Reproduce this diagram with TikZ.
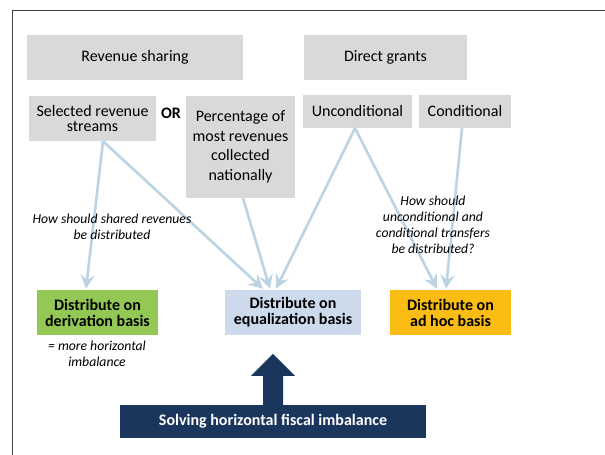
\documentclass[tikz,border=0pt]{standalone}
\usepackage{fontspec}
\setmainfont{Carlito}
\usetikzlibrary{arrows.meta,calc}
\definecolor{greybox}{HTML}{D9D9D9}
\definecolor{greenbox}{HTML}{92C853}
\definecolor{bluebox}{HTML}{CCDAEC}
\definecolor{yellowbox}{HTML}{FBBD13}
\definecolor{navy}{HTML}{1A365D}
\definecolor{arrowblue}{HTML}{BCD3E2}
\begin{document}
\begin{tikzpicture}[x=1pt,y=-1pt,
  gbox/.style={fill=greybox,inner sep=0pt,align=center,font=\fontsize{16}{15.5}\selectfont},
  rbox/.style={inner sep=0pt,align=center,font=\fontsize{16}{16}\selectfont\bfseries},
  note/.style={inner sep=0pt,align=center,font=\fontsize{13.7}{16}\selectfont\itshape},
  flow/.style={draw=arrowblue,line width=2.6pt,-{Stealth[length=14pt,width=14pt,inset=5pt]}}]
\useasboundingbox (0,0) rectangle (605,455);
\draw[line width=1pt,black!75] (12,455) -- (12,10) -- (605,10);
% top boxes
\node[gbox,minimum width=216pt,minimum height=45pt] (revshare) at (135,57.5) {Revenue sharing};
\node[gbox,minimum width=163pt,minimum height=45pt] (direct) at (385.5,57.5) {Direct grants};
\node[gbox,minimum width=127pt,minimum height=45pt] (selected) at (92.5,118.5) {Selected revenue\\streams};
\node[inner sep=0pt,font=\fontsize{16}{16}\selectfont\bfseries] (or) at (171,113) {OR};
\node[gbox,minimum width=109pt,minimum height=102pt,font=\fontsize{16}{19.5}\selectfont] (percent) at (240.5,147) {Percentage of\\most revenues\\collected\\nationally};
\node[gbox,minimum width=109pt,minimum height=33pt] (uncond) at (357.5,111.5) {Unconditional};
\node[gbox,minimum width=92pt,minimum height=33pt] (cond) at (465,111.5) {Conditional};
% result boxes
\node[rbox,fill=greenbox,minimum width=121pt,minimum height=45pt] (deriv) at (97.5,312.5) {Distribute on\\derivation basis};
\node[rbox,fill=bluebox,minimum width=136pt,minimum height=45pt] (equal) at (293,312.5) {Distribute on\\equalization basis};
\node[rbox,fill=yellowbox,minimum width=121pt,minimum height=45pt] (adhoc) at (450.5,312.5) {Distribute on\\ad hoc basis};
\node[inner sep=0pt,fill=navy,text=white,minimum width=306pt,minimum height=33pt,font=\fontsize{16}{16}\selectfont\bfseries] (solving) at (273,421.5) {Solving horizontal fiscal imbalance};
% connectors
\draw[flow] ($(selected.south)+(10.5,0)$) -- ($(deriv.north)+(-11.5,-1)$);
\draw[flow] ($(selected.south)+(10.5,0)$) -- ($(equal.north)+(-30,-1)$);
\draw[flow] ($(percent.south)+(2.5,0)$) -- ($(equal.north)+(-23,-1)$);
\draw[flow] ($(uncond.south)+(-2.5,0)$) -- ($(equal.north)+(-17,-1)$);
\draw[flow] ($(uncond.south)+(-2.5,0)$) -- ($(adhoc.north)+(-13.5,-1)$);
\draw[flow] ($(cond.south)+(-3,0)$) -- ($(adhoc.north)+(-4.5,-1)$);
% big arrow
\fill[navy] ($(solving.north)+(-10,0)$) -- ++(0,-29) -- ++(-12,0) -- ($(solving.north)+(0,-51)$) -- ($(solving.north)+(22,-29)$) -- ++(-12,0) -- ($(solving.north)+(10,0)$) -- cycle;
% notes
\node[note] (q1) at (112,227) {How should shared revenues\\be distributed};
\node[note] (q2) at (433,225) {How should\\unconditional and\\conditional transfers\\be distributed?};
\node[note] (n1) at (97,353.5) {= more horizontal\\imbalance};
\end{tikzpicture}
\end{document}
